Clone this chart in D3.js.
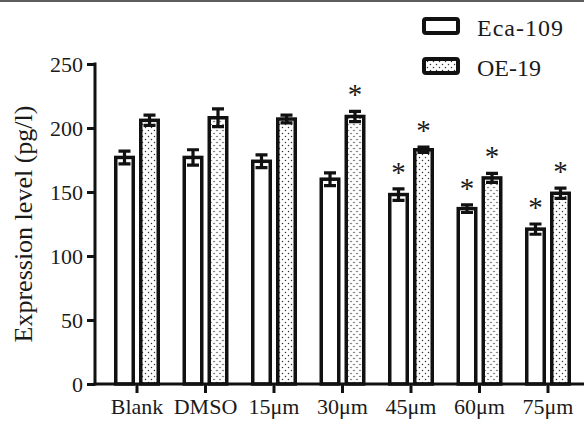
<!DOCTYPE html>
<html>
<head>
<meta charset="utf-8">
<script src="https://cdn.jsdelivr.net/npm/d3@7"></script>
<style>
  html, body { margin: 0; padding: 0; background: #fff; }
  svg { display: block; }
  text { font-family: "Liberation Serif", "Times New Roman", serif; fill: #1a1a1a; }
</style>
</head>
<body>
<svg id="chart" width="584" height="421"></svg>
<script>
const categories = ["Blank", "DMSO", "15\u03bcm", "30\u03bcm", "45\u03bcm", "60\u03bcm", "75\u03bcm"];
const seriesNames = ["Eca-109", "OE-19"];
const ecaValues = [177, 177, 174, 160, 148, 137, 121];
const ecaErrors = [5, 6, 5, 5, 4.5, 3, 4];
const oeValues = [206, 208, 207, 209, 183, 161, 149];
const oeErrors = [4, 7, 3, 4, 2, 3.5, 4];
const ecaSig = [false, false, false, false, true, true, true];
const oeSig = [false, false, false, true, true, true, true];
const yTicks = [0, 50, 100, 150, 200, 250];

const svg = d3.select("#chart");
const defs = svg.append("defs");
const pat = defs.append("pattern").attr("id", "dots").attr("patternUnits", "userSpaceOnUse")
  .attr("width", 6).attr("height", 6);
pat.append("rect").attr("width", 6).attr("height", 6).attr("fill", "#fff");
pat.append("circle").attr("cx", 1.5).attr("cy", 1.5).attr("r", 0.75).attr("fill", "#333");
pat.append("circle").attr("cx", 4.5).attr("cy", 4.5).attr("r", 0.75).attr("fill", "#333");

// top border line
svg.append("rect").attr("x", 0).attr("y", 0).attr("width", 584).attr("height", 2).attr("fill", "#5e5e5e");

const y = d3.scaleLinear().domain([0, 250]).range([384, 64]);
const step = 68.5;
const pi = 22.5 / 68.5;
const x0 = d3.scaleBand().domain(categories).range([102.75, 102.75 + 7 * step])
  .paddingInner(pi).paddingOuter(pi / 2);
const x1 = d3.scaleBand().domain(seriesNames).range([0, x0.bandwidth()]).paddingInner(0.16).paddingOuter(0);

const data = categories.map((c, i) => ({
  cat: c,
  vals: [
    { s: "Eca-109", v: ecaValues[i], e: ecaErrors[i], sig: ecaSig[i] },
    { s: "OE-19", v: oeValues[i], e: oeErrors[i], sig: oeSig[i] }
  ]
}));

const sw = 3.5;
const groups = svg.append("g").selectAll("g").data(data).join("g")
  .attr("transform", d => `translate(${x0(d.cat)},0)`);

// bars
groups.selectAll("rect.bar").data(d => d.vals).join("rect").attr("class", "bar")
  .attr("x", d => x1(d.s) + sw / 2)
  .attr("width", x1.bandwidth() - sw)
  .attr("y", d => y(d.v))
  .attr("height", d => y(0) - y(d.v))
  .attr("fill", d => d.s === "OE-19" ? "url(#dots)" : "#fff")
  .attr("stroke", "#111").attr("stroke-width", sw);

// error bars
const capW = 12;
groups.selectAll("path.err").data(d => d.vals).join("path").attr("class", "err")
  .attr("d", d => {
    const cx = x1(d.s) + x1.bandwidth() / 2;
    const t = y(d.v + d.e), b = y(d.v - d.e);
    return `M${cx},${t}V${b}M${cx - capW / 2},${t}H${cx + capW / 2}M${cx - capW / 2},${b}H${cx + capW / 2}`;
  })
  .attr("fill", "none").attr("stroke", "#111").attr("stroke-width", 3.2);

// significance stars
groups.selectAll("text.sig").data(d => d.vals.filter(v => v.sig)).join("text").attr("class", "sig")
  .attr("x", d => x1(d.s) + x1.bandwidth() / 2)
  .attr("y", d => y(d.v + d.e) - 7)
  .attr("text-anchor", "middle")
  .style("font-size", "29px")
  .style("fill", "#1a1a1a")
  .text("*");

// y axis
const yAxis = svg.append("g").attr("transform", "translate(95,0)")
  .call(d3.axisLeft(y).tickValues(yTicks).tickSize(8).tickPadding(4).tickSizeOuter(0));
yAxis.attr("font-family", null);
yAxis.select(".domain").attr("stroke", "#111").attr("stroke-width", 3).attr("d", `M0,${y(0) + 1.5}V${y(250) - 1.5}`);
yAxis.selectAll(".tick line").attr("stroke", "#111").attr("stroke-width", 3);
yAxis.selectAll(".tick text").style("font-size", "22px").style("font-family", "'Liberation Serif', serif").style("fill", "#1a1a1a");

// x axis
const xAxis = svg.append("g").attr("transform", `translate(0,${y(0)})`)
  .call(d3.axisBottom(x0).tickSize(9).tickPadding(5).tickSizeOuter(0));
xAxis.attr("font-family", null);
xAxis.select(".domain").attr("stroke", "#111").attr("stroke-width", 3).attr("d", "M93.5,0H584");
xAxis.selectAll(".tick line").attr("stroke", "#111").attr("stroke-width", 3);
xAxis.selectAll(".tick text").style("font-size", "22px").style("font-family", "'Liberation Serif', serif").style("fill", "#1a1a1a");

// y title
svg.append("text")
  .attr("transform", "translate(32,224) rotate(-90)")
  .attr("text-anchor", "middle")
  .style("font-size", "26px")
  .text("Expression level (pg/l)");

// legend
const legend = svg.append("g");
seriesNames.forEach((s, i) => {
  const gy = 17 + i * 40;
  legend.append("rect").attr("x", 424).attr("y", gy + 2).attr("width", 34).attr("height", 14)
    .attr("rx", 2)
    .attr("fill", s === "OE-19" ? "url(#dots)" : "#fff")
    .attr("stroke", "#111").attr("stroke-width", 4);
  legend.append("text").attr("x", 477).attr("y", gy + 19)
    .style("font-size", "24px")
    .attr("letter-spacing", s === "Eca-109" ? "1px" : "0px")
    .text(s);
});
</script>
</body>
</html>
